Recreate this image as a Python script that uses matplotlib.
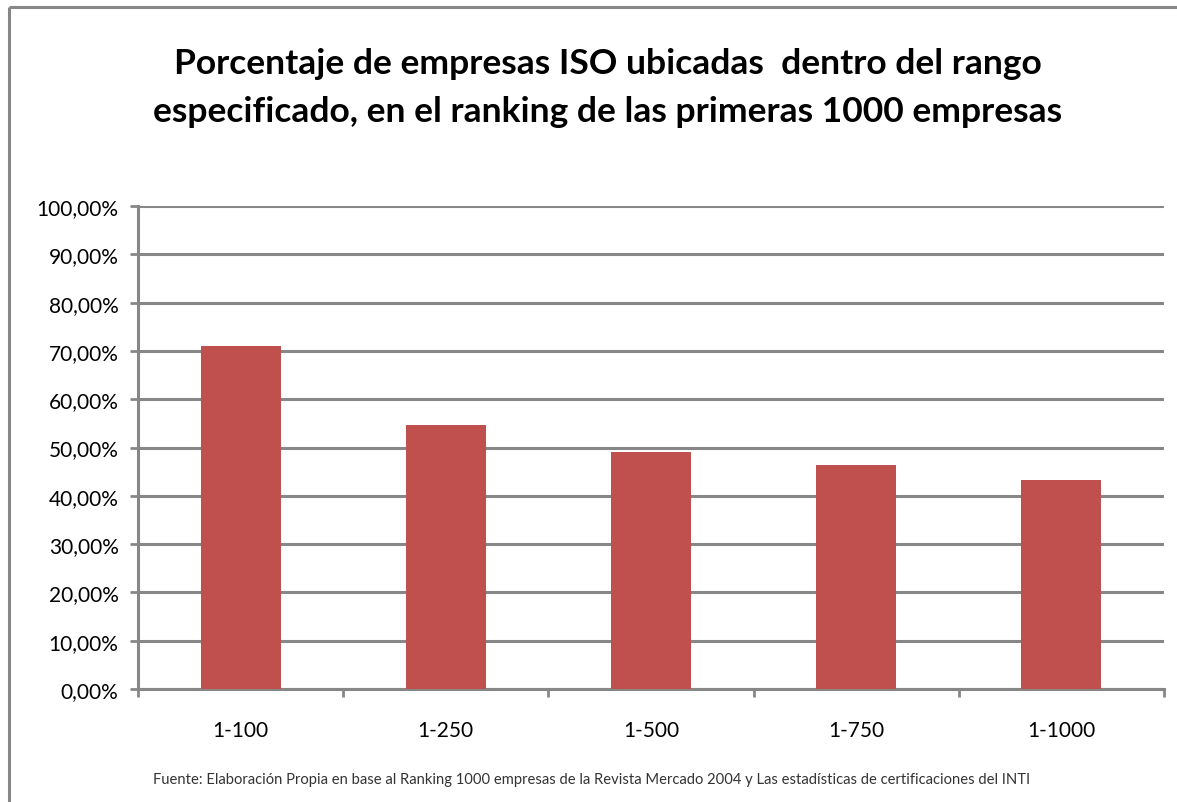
import matplotlib.pyplot as plt
from matplotlib.lines import Line2D
from matplotlib.ticker import FuncFormatter, MultipleLocator
import numpy as np

# datos
rangos = ['1-100', '1-250', '1-500', '1-750', '1-1000']
porcentajes = [71.0, 54.7, 49.0, 46.4, 43.3]

titulo = ('Porcentaje de empresas ISO ubicadas  dentro del rango\n'
          'especificado, en el ranking de las primeras 1000 empresas')
fuente = ('Fuente: Elaboración Propia en base al Ranking 1000 empresas de la '
          'Revista Mercado 2004 y Las estadísticas de certificaciones del INTI')

gris = '#878787'
rojo = '#C0504D'

plt.rcParams['font.family'] = ['Lato', 'DejaVu Sans']

fig = plt.figure(figsize=(11.77, 8.03), dpi=100)
ax = fig.add_axes([138 / 1177, 1 - 690 / 803, (1164 - 138) / 1177, (690 - 207) / 803])

x = np.arange(len(rangos))
ax.bar(x, porcentajes, width=0.39, color=rojo, zorder=3)

ax.set_xlim(-0.5, len(rangos) - 0.5)
ax.set_ylim(0, 100)
ax.yaxis.set_major_locator(MultipleLocator(10))
ax.yaxis.set_major_formatter(FuncFormatter(lambda v, p: f'{v:.2f}%'.replace('.', ',')))
ax.grid(axis='y', color=gris, linewidth=2.2, zorder=1)

ax.set_xticks(x)
ax.set_xticklabels(rangos)
ax.set_xticks(np.arange(len(rangos) + 1) - 0.5, minor=True)
ax.tick_params(axis='x', which='major', length=0, pad=22, labelsize=15)
ax.tick_params(axis='x', which='minor', length=6, width=2, color=gris, direction='out')
ax.tick_params(axis='y', length=6, width=2, color=gris, pad=8, labelsize=15)

for s in ['top', 'right']:
    ax.spines[s].set_visible(False)
for s in ['left', 'bottom']:
    ax.spines[s].set_color(gris)
    ax.spines[s].set_linewidth(2.2)

fig.text(608 / 1177, 1 - 88 / 803, titulo, ha='center', va='center', fontsize=25.5,
         fontweight='bold', linespacing=1.62)
fig.text(592 / 1177, 1 - 780 / 803, fuente, ha='center', va='center', fontsize=10.6,
         color='#333333')

# marco del area del grafico (recortado a la derecha y abajo)
fig.add_artist(Line2D([9 / 1177, 9 / 1177], [-0.01, 1 - 8 / 803], transform=fig.transFigure,
                      color=gris, linewidth=2.2, solid_capstyle='butt'))
fig.add_artist(Line2D([9 / 1177, 1.01], [1 - 8 / 803, 1 - 8 / 803], transform=fig.transFigure,
                      color=gris, linewidth=2.2, solid_capstyle='butt'))

plt.savefig('out.png', dpi=100)
